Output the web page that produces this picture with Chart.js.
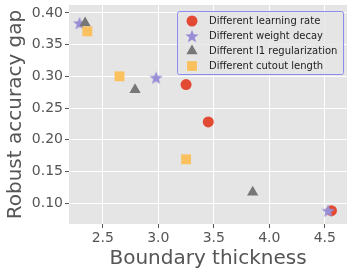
<!DOCTYPE html>
<html>
<head>
<meta charset="utf-8">
<script src="https://cdn.jsdelivr.net/npm/chart.js@4/dist/chart.umd.min.js"></script>
<style>
html, body { margin: 0; padding: 0; background: #fff; }
#wrap { width: 354px; height: 275px; position: relative; }
</style>
</head>
<body>
<div id="wrap"><canvas id="chart" width="354" height="275"></canvas></div>
<script>
// series labels
const seriesNames = ['Different learning rate', 'Different weight decay', 'Different l1 regularization', 'Different cutout length'];
const seriesColors = ['#E24A33', '#988ED5', '#777777', '#FBC15E'];

// boundary thickness (x) and robust accuracy gap (y)
const lrX = [3.25, 3.45, 4.56];
const lrY = [0.287, 0.228, 0.088];
const wdX = [2.29, 2.98, 4.53];
const wdY = [0.384, 0.298, 0.088];
const l1X = [2.34, 2.79, 3.85];
const l1Y = [0.384, 0.279, 0.117];
const coX = [2.36, 2.65, 3.25];
const coY = [0.371, 0.300, 0.169];

const xTicks = [2.5, 3.0, 3.5, 4.0, 4.5];
const yTicks = [0.10, 0.15, 0.20, 0.25, 0.30, 0.35, 0.40];

// filled star marker
function makeStar(size, color) {
  const c = document.createElement('canvas');
  c.width = size; c.height = size;
  const g = c.getContext('2d');
  const cx = size / 2, cy = size / 2 + size * 0.05;
  const R = size / 2, r = R * 0.42;
  g.beginPath();
  for (let i = 0; i < 10; i++) {
    const rad = i % 2 === 0 ? R : r;
    const a = -Math.PI / 2 + i * Math.PI / 5;
    g.lineTo(cx + rad * Math.cos(a), cy + rad * Math.sin(a));
  }
  g.closePath();
  g.fillStyle = color;
  g.fill();
  return c;
}
const starImg = makeStar(14, seriesColors[1]);

function pts(xs, ys) {
  return xs.map((x, i) => ({ x: x, y: ys[i] }));
}

const styles = ['circle', starImg, 'triangle', 'rect'];
const radii = [5.5, 6, 6.5, 7];
const allX = [lrX, wdX, l1X, coX];
const allY = [lrY, wdY, l1Y, coY];

// later series drawn on top, as in the original
const datasets = seriesNames.map((name, i) => ({
  label: name,
  data: pts(allX[i], allY[i]),
  order: seriesNames.length - i,
  pointStyle: styles[i],
  pointRadius: radii[i],
  pointHoverRadius: radii[i],
  backgroundColor: seriesColors[i],
  borderColor: seriesColors[i],
  borderWidth: 0
}));

const bgPlugin = {
  id: 'bg',
  beforeDraw(chart) {
    const a = chart.chartArea, ctx = chart.ctx;
    ctx.save();
    ctx.fillStyle = '#E5E5E5';
    ctx.fillRect(a.left, a.top, a.right - a.left, a.bottom - a.top);
    ctx.restore();
  }
};

// legend box in the upper right of the plot
const legendPlugin = {
  id: 'boxLegend',
  afterDatasetsDraw(chart) {
    const ctx = chart.ctx;
    const left = 177.5, top = 11.5, w = 166, h = 63;
    ctx.save();
    ctx.fillStyle = 'rgba(229,229,229,0.8)';
    ctx.strokeStyle = '#8C8CF0';
    ctx.lineWidth = 1;
    ctx.beginPath();
    ctx.roundRect ? ctx.roundRect(left, top, w, h, 2) : ctx.rect(left, top, w, h);
    ctx.fill();
    ctx.stroke();
    ctx.font = '10px "DejaVu Sans"';
    ctx.textBaseline = 'middle';
    chart.data.datasets.forEach((ds, i) => {
      const y = top + 9.5 + i * 15;
      ctx.fillStyle = ds.backgroundColor;
      ctx.strokeStyle = ds.borderColor;
      Chart.helpers.drawPoint(ctx, {
        pointStyle: ds.pointStyle,
        radius: ds.pointRadius,
        borderWidth: 0,
        rotation: 0
      }, 192, y);
      ctx.fillStyle = '#222';
      ctx.fillText(ds.label, 209, y);
    });
    ctx.restore();
  }
};

new Chart(document.getElementById('chart'), {
  type: 'scatter',
  data: { datasets: datasets },
  plugins: [bgPlugin, legendPlugin],
  options: {
    responsive: false,
    animation: false,
    events: [],
    layout: { autoPadding: false, padding: { left: 0, right: 7, top: 5, bottom: 0 } },
    plugins: { legend: { display: false }, tooltip: { enabled: false } },
    scales: {
      x: {
        type: 'linear',
        min: 2.195,
        max: 4.70,
        afterBuildTicks(scale) { scale.ticks = xTicks.map(v => ({ value: v })); },
        afterFit(scale) { scale.height = 51; scale.paddingLeft = 0; scale.paddingRight = 0; },
        border: { display: false },
        grid: { color: '#FFFFFF', lineWidth: 1, tickColor: '#555', tickLength: 4 },
        ticks: {
          color: '#555', font: { family: 'DejaVu Sans', size: 14 }, padding: 2,
          callback: v => v.toFixed(1)
        },
        title: {
          display: true, text: 'Boundary thickness', color: '#555',
          font: { family: 'DejaVu Sans', size: 20 }, padding: { top: 2 }
        }
      },
      y: {
        type: 'linear',
        min: 0.0669,
        max: 0.4126,
        afterBuildTicks(scale) { scale.ticks = yTicks.map(v => ({ value: v })); },
        afterFit(scale) { scale.width = 69; scale.paddingTop = 0; scale.paddingBottom = 0; },
        border: { display: false },
        grid: { color: '#FFFFFF', lineWidth: 1, tickColor: '#555', tickLength: 4 },
        ticks: {
          color: '#555', font: { family: 'DejaVu Sans', size: 14 }, padding: 2,
          callback: v => v.toFixed(2)
        },
        title: {
          display: true, text: 'Robust accuracy gap', color: '#555',
          font: { family: 'DejaVu Sans', size: 20 }, padding: { bottom: 0 }
        }
      }
    }
  }
});
</script>
</body>
</html>
